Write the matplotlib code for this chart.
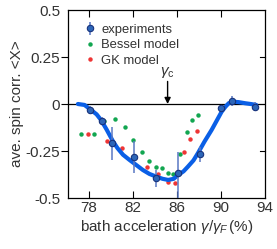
import matplotlib
matplotlib.use("Agg")
import matplotlib.pyplot as plt
import numpy as np
from matplotlib.lines import Line2D

# --- data ---
exp_x = [78.1, 79.15, 80.1, 82.1, 84.1, 86.1, 88.1, 90.0, 91.0, 93.05]
exp_y = [-0.03, -0.09, -0.21, -0.28, -0.395, -0.365, -0.268, -0.02, 0.016, -0.014]
exp_err_lo = [0.02, 0.02, 0.09, 0.085, 0.044, 0.14, 0.04, 0.015, 0.027, 0.022]
exp_err_hi = [0.02, 0.02, 0.09, 0.085, 0.044, 0.11, 0.04, 0.015, 0.027, 0.022]

bessel_x = [77.25, 78.45, 79.4, 80.4, 81.25, 82.05, 82.8, 83.45, 84.06, 84.66,
            85.15, 85.66, 86.3, 86.9, 87.4, 87.95]
bessel_y = [-0.16, -0.16, -0.09, -0.08, -0.124, -0.193, -0.257, -0.303, -0.333, -0.342,
            -0.369, -0.374, -0.268, -0.151, -0.085, -0.059]

gk_x = [77.9, 79.6, 81.0, 83.3, 84.3, 85.2, 85.85, 86.6, 87.2, 87.8]
gk_y = [-0.16, -0.197, -0.232, -0.333, -0.374, -0.417, -0.422, -0.254, -0.188, -0.142]

fit_x = [77.0, 77.6, 78.2, 78.7, 79.1, 79.6, 80.2, 80.6, 81.1, 81.7, 82.2, 82.9, 83.5,
         84.15, 84.7, 85.2, 85.7, 86.1, 86.6, 87.0, 87.5, 87.9, 88.5, 89.15, 89.6,
         90.06, 90.4, 90.7, 91.1, 91.6, 92.2, 92.7, 93.2]
fit_y = [0.0, -0.005, -0.032, -0.055, -0.085, -0.135, -0.2, -0.235, -0.27, -0.298,
         -0.32, -0.351, -0.372, -0.387, -0.398, -0.404, -0.398, -0.378, -0.358, -0.333,
         -0.3, -0.262, -0.2, -0.138, -0.09, -0.041, -0.015, 0.004, 0.012, 0.01, 0.004,
         0.0, -0.005]

gamma_c = 85.15
xticks = [78, 82, 86, 90, 94]
yticks = [-0.5, -0.25, 0, 0.25, 0.5]
ytick_labels = ["-0.5", "-0.25", "0", "0.25", "0.5"]

plt.rcParams['font.family'] = ['Liberation Sans', 'DejaVu Sans']
plt.rcParams['mathtext.fontset'] = 'custom'
plt.rcParams['mathtext.it'] = 'Liberation Sans:italic'
plt.rcParams['mathtext.rm'] = 'Liberation Sans'

TXT = '#333333'
fig = plt.figure(figsize=(2.77, 2.49), dpi=100)
ax = fig.add_axes([68/277, 1-198/249, (265-68)/277, (198-10)/249])

ax.axhline(0, color='black', lw=0.9, zorder=1)

ax.plot(bessel_x, bessel_y, 'o', color='#12a650', ms=3.2, mec='none', zorder=2)
ax.plot(gk_x, gk_y, 'o', color='#ee3535', ms=3.2, mec='none', zorder=2)
ax.plot(fit_x, fit_y, '-', color='#0a5fe6', lw=3.0, solid_capstyle='round', zorder=3)
ax.errorbar(exp_x, exp_y, yerr=[exp_err_lo, exp_err_hi], fmt='o', ms=4.6,
            mfc='#2d66b8', mec='#17327c', mew=0.8, ecolor='#5a78c4', elinewidth=1.1,
            capsize=0, zorder=4)

ax.annotate('', xy=(gamma_c, 0.0), xytext=(gamma_c, 0.12),
            arrowprops=dict(arrowstyle='-|>', color='black', lw=1.0,
                            mutation_scale=9, shrinkA=0, shrinkB=0), zorder=5)
ax.text(gamma_c, 0.13, r'$\gamma_{\rm c}$', ha='center', va='bottom', fontsize=11, color=TXT)

ax.set_xlim(76.1, 94)
ax.set_ylim(-0.5, 0.5)
ax.set_xticks(xticks)
ax.set_xticklabels([str(t) for t in xticks])
ax.set_yticks(yticks)
ax.set_yticklabels(ytick_labels)

ax.tick_params(axis='x', which='both', direction='in', top=True, bottom=True,
               length=5, width=0.8, labelsize=11, labelcolor=TXT, pad=2)
ax.tick_params(axis='y', which='both', direction='out', left=True, right=False,
               length=5, width=0.8, labelsize=11, labelcolor=TXT, pad=0.5)
# right ticks inward
for t in [-0.25, 0.25]:
    ax.plot([1, 0.975], [t, t], transform=ax.get_yaxis_transform(), color='black',
            lw=0.8, clip_on=False, zorder=6)
for tk, v in zip(ax.yaxis.get_major_ticks(), yticks):
    if abs(v) == 0.5:
        tk.tick1line.set_visible(False)
for tk, v in zip(ax.xaxis.get_major_ticks(), xticks):
    if v == 94:
        tk.tick1line.set_visible(False)
        tk.tick2line.set_visible(False)

for s in ax.spines.values():
    s.set_linewidth(0.9)

ax.set_xlabel(r'bath acceleration $\gamma/\gamma_F\,$(%)', fontsize=11, color=TXT, labelpad=2)
ax.set_ylabel('ave. spin corr. <X>', fontsize=11, color=TXT, labelpad=1)

h_exp = ax.errorbar([], [], yerr=[], fmt='o', ms=4.6, mfc='#2d66b8', mec='#17327c',
                    mew=0.8, ecolor='#5a78c4', elinewidth=1.1)
h2 = Line2D([], [], marker='o', ls='none', ms=3.2, color='#12a650', mec='none')
h3 = Line2D([], [], marker='o', ls='none', ms=3.2, color='#ee3535', mec='none')
leg = ax.legend([h_exp, h2, h3], ['experiments', 'Bessel model', 'GK model'],
                loc='upper left', bbox_to_anchor=(0.036, 0.976), frameon=False,
                fontsize=9.4, handlelength=0.9, handletextpad=0.4, labelspacing=0.25,
                borderaxespad=0.4, borderpad=0.3, labelcolor=TXT)

fig.savefig('out.png', dpi=100)
